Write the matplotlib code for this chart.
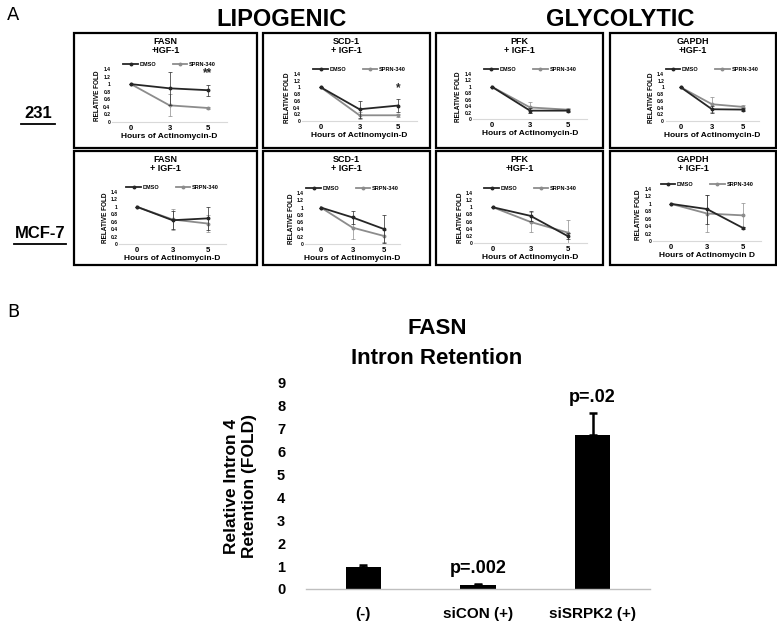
import matplotlib
matplotlib.use("Agg")

import numpy as np
import matplotlib.pyplot as plt
from matplotlib.patches import Rectangle
from matplotlib.lines import Line2D
from matplotlib.ticker import FuncFormatter

plt.rcParams["font.family"] = ["Liberation Sans", "DejaVu Sans"]
plt.rcParams["font.weight"] = "bold"
plt.rcParams["axes.labelweight"] = "bold"

# ── Panel A data ─────────────────────────────────────────────
hours = ["0", "3", "5"]
gene_titles_231 = ["FASN\n+IGF-1", "SCD-1\n+ IGF-1", "PFK\n+ IGF-1", "GAPDH\n+IGF-1"]
gene_titles_mcf7 = ["FASN\n+ IGF-1", "SCD-1\n+ IGF-1", "PFK\n+IGF-1", "GAPDH\n+ IGF-1"]
drug_label_231 = "SPRN-340"
drug_label_mcf7 = "SRPN-340"
xlabels_mcf7 = ["Hours of Actinomycin-D"] * 3 + ["Hours of Actinomycin D"]
stars_231 = ["**", "*", "", ""]
star_y_231 = [1.28, 0.98, 0, 0]

dmso_231 = [[1, 0.89, 0.84], [1, 0.35, 0.46], [1, 0.26, 0.26], [1, 0.35, 0.34]]
dmso_231_err = [[0, 0.43, 0.15], [0, 0.25, 0.20], [0, 0.08, 0.04], [0, 0.11, 0.04]]
sprn_231 = [[1, 0.44, 0.37], [1, 0.17, 0.17], [1, 0.36, 0.29], [1, 0.50, 0.42]]
sprn_231_err = [[0, 0.29, 0.02], [0, 0.10, 0.05], [0, 0.17, 0.05], [0, 0.22, 0.05]]

dmso_mcf7 = [[1, 0.64, 0.69], [1, 0.73, 0.41], [1, 0.76, 0.19], [1, 0.86, 0.35]]
dmso_mcf7_err = [[0, 0.24, 0.30], [0, 0.18, 0.39], [0, 0.14, 0.08], [0, 0.39, 0.03]]
sprn_mcf7 = [[1, 0.66, 0.55], [1, 0.45, 0.22], [1, 0.59, 0.29], [1, 0.74, 0.69]]
sprn_mcf7_err = [[0, 0.27, 0.22], [0, 0.30, 0.16], [0, 0.29, 0.35], [0, 0.50, 0.32]]

# ── Panel B data ─────────────────────────────────────────────
conditions = ["(-)", "siCON (+)", "siSRPK2 (+)"]
retention = [0.97, 0.17, 6.73]
retention_err = [0.10, 0.07, 0.97]
pvalues = ["", "p=.002", "p=.02"]

# ── layout (pixels of a 777x628 canvas) ──────────────────────
W, H = 777, 628
DARK, GRAY = "#262626", "#8c8c8c"

box_cols = [(74, 257), (263, 430), (436, 603), (610, 776)]
box_rows = [(33, 148), (151, 265)]
# x of first / last category, y of 0 and of 1.4
axes_px = [
    [(131, 208, 122, 69), (321, 398, 121, 74), (492, 568, 119, 74), (681, 743, 121, 74)],
    [(137, 208, 244, 192), (321, 384, 244, 193), (493, 568, 243, 193), (671, 743, 241, 189)],
]


def fx(x):
    return x / W


def fy(y):
    return 1 - y / H


fig = plt.figure(figsize=(W / 100, H / 100), dpi=100)
fig.patch.set_facecolor("white")


def small_panel(r, c, title, dmso, dmso_err, drug, drug_err, drug_label, xlabel, star="", star_y=0):
    bx0, bx1 = box_cols[c]
    by0, by1 = box_rows[r]
    fig.add_artist(Rectangle((fx(bx0), fy(by1)), fx(bx1) - fx(bx0), fy(by0) - fy(by1),
                             transform=fig.transFigure, fill=False, lw=1.6, ec="black"))
    fig.text(fx((bx0 + bx1) / 2), fy(by0 + 4), title, ha="center", va="top",
             fontsize=6.5, linespacing=1.05)

    x0, x2, y0, y14 = axes_px[r][c]
    sp = (x2 - x0) / 2
    ax = fig.add_axes([fx(x0 - 0.5 * sp), fy(y0), 3 * sp / W, (y0 - y14) / H])
    xs = np.arange(len(hours))
    ax.errorbar(xs, dmso, yerr=dmso_err, color=DARK, lw=1.3, marker="o", ms=1.8,
                elinewidth=0.5, capsize=1.2, capthick=0.5, label="DMSO", zorder=3)
    ax.errorbar(xs, drug, yerr=drug_err, color=GRAY, lw=1.3, marker="o", ms=1.8,
                elinewidth=0.5, capsize=1.2, capthick=0.5, label=drug_label, zorder=2)
    if star:
        ax.text(2, star_y, star, ha="center", va="center", fontsize=8.5, color=DARK)
    ax.set_xlim(-0.5, 2.5)
    ax.set_ylim(0, 1.4)
    ax.set_yticks(np.arange(0, 1.41, 0.2))
    ax.yaxis.set_major_formatter(FuncFormatter(lambda v, p: f"{v:g}"))
    ax.set_xticks(xs)
    ax.set_xticklabels(hours)
    ax.tick_params(axis="y", length=0, labelsize=3.6, pad=1)
    ax.tick_params(axis="x", length=0, labelsize=5.5, pad=2.5)
    for s in ("top", "right", "left"):
        ax.spines[s].set_visible(False)
    ax.spines["bottom"].set_color("#d9d9d9")
    ax.spines["bottom"].set_linewidth(0.8)
    ax.set_facecolor("none")
    ax.set_xlabel(xlabel, fontsize=6, labelpad=0.3)
    ax.set_ylabel("RELATIVE FOLD", fontsize=4.7, labelpad=1.5)
    handles = [Line2D([0], [0], color=DARK, lw=1.3, marker="o", ms=1.8, label="DMSO"),
               Line2D([0], [0], color=GRAY, lw=1.3, marker="o", ms=1.8, label=drug_label)]
    ax.legend(handles=handles, ncol=2, loc="lower center", bbox_to_anchor=(0.5, 1.0),
              fontsize=4, frameon=False, handlelength=2.6, handletextpad=0.3,
              columnspacing=3.0, borderaxespad=0.3, borderpad=0.1)


for c in range(4):
    small_panel(0, c, gene_titles_231[c], dmso_231[c], dmso_231_err[c],
                sprn_231[c], sprn_231_err[c], drug_label_231,
                "Hours of Actinomycin-D", stars_231[c], star_y_231[c])
    small_panel(1, c, gene_titles_mcf7[c], dmso_mcf7[c], dmso_mcf7_err[c],
                sprn_mcf7[c], sprn_mcf7_err[c], drug_label_mcf7, xlabels_mcf7[c])

# ── headers / row labels ─────────────────────────────────────
fig.text(fx(281), fy(19), "LIPOGENIC", ha="center", va="center", fontsize=17)
fig.text(fx(620), fy(19), "GLYCOLYTIC", ha="center", va="center", fontsize=17)
fig.text(fx(13), fy(15), "A", ha="center", va="center", fontsize=13, weight="normal",
         family=["DejaVu Sans"])
fig.text(fx(13), fy(312), "B", ha="center", va="center", fontsize=13, weight="normal",
         family=["DejaVu Sans"])

for label, cx, cy, half in [("231", 38, 114, 17), ("MCF-7", 40, 234, 26)]:
    fig.text(fx(cx), fy(cy), label, ha="center", va="center", fontsize=12)
    fig.add_artist(Line2D([fx(cx - half), fx(cx + half)], [fy(cy + 10), fy(cy + 10)],
                          transform=fig.transFigure, color="black", lw=1.3))

# ── Panel B ──────────────────────────────────────────────────
fig.text(fx(437), fy(328), "FASN", ha="center", va="center", fontsize=16)
fig.text(fx(437), fy(358), "Intron Retention", ha="center", va="center", fontsize=16)

axb = fig.add_axes([fx(306), fy(589), (650 - 306) / W, (589 - 383) / H])
xb = np.arange(len(conditions))
axb.bar(xb, retention, width=0.31, color="black", zorder=2)
axb.errorbar(xb, retention, yerr=[np.zeros(len(retention)), retention_err], fmt="none",
             ecolor="black", elinewidth=1.8, capsize=3, capthick=1.8, zorder=3)
for i, txt in enumerate(pvalues):
    if txt:
        axb.text(xb[i], retention[i] + retention_err[i] + 0.3, txt, ha="center",
                 va="bottom", fontsize=13)
axb.set_xlim(-0.5, 2.5)
axb.set_ylim(0, 9)
axb.set_yticks(range(10))
axb.set_xticks(xb)
axb.set_xticklabels(conditions)
axb.tick_params(axis="y", length=0, labelsize=10.5, pad=15)
axb.tick_params(axis="x", length=0, labelsize=11, pad=13)
for s in ("top", "right", "left"):
    axb.spines[s].set_visible(False)
axb.spines["bottom"].set_color("#bfbfbf")
axb.spines["bottom"].set_linewidth(1.0)
axb.set_ylabel("Relative Intron 4\nRetention (FOLD)", fontsize=12.5, labelpad=14,
               linespacing=1.3)

fig.savefig("out.png", dpi=100, facecolor="white")
